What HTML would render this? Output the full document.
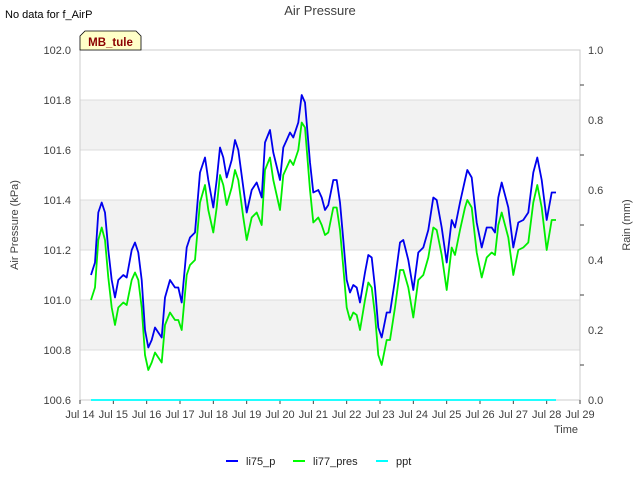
<!DOCTYPE html>
<html><head><meta charset="utf-8"><style>
body{margin:0;background:#fff;}
svg{display:block;font-family:"Liberation Sans","DejaVu Sans",sans-serif;}
</style></head><body>
<svg id="chart" width="640" height="480" viewBox="0 0 640 480">
<g id="bands"></g><g id="grid"></g><g id="axes"></g><g id="series"></g>
<text x="320" y="15" text-anchor="middle" font-size="13" fill="#404040">Air Pressure</text>
<text x="5" y="18" font-size="11" fill="#000">No data for f_AirP</text>
<g>
<path d="M80,50 L80,36 L85,31 L136,31 L141,36 L141,50 Z" fill="#ffffc8" stroke="#000" stroke-width="0.8"/>
<text x="110.5" y="46" text-anchor="middle" font-size="11.5" font-weight="bold" fill="#8b0000">MB_tule</text>
</g>
<text transform="translate(18,225) rotate(-90)" text-anchor="middle" font-size="11" fill="#404040">Air Pressure (kPa)</text>
<text transform="translate(630,225) rotate(-90)" text-anchor="middle" font-size="11" fill="#404040">Rain (mm)</text>
<text x="566" y="433" text-anchor="middle" font-size="11" fill="#404040">Time</text>
<g>
<g><line x1="226" y1="461" x2="238" y2="461" stroke="#0000ff" stroke-width="2"/><text x="246" y="465" font-size="11" fill="#222">li75_p</text></g>
<g><line x1="293" y1="461" x2="305" y2="461" stroke="#00ff00" stroke-width="2"/><text x="313" y="465" font-size="11" fill="#222">li77_pres</text></g>
<g><line x1="376" y1="461" x2="388" y2="461" stroke="#00ffff" stroke-width="2"/><text x="396" y="465" font-size="11" fill="#222">ppt</text></g>
</g>
</svg>
<script>
const days=[14.33,14.45,14.55,14.65,14.75,14.85,14.95,15.05,15.15,15.30,15.40,15.55,15.65,15.75,15.85,15.95,16.05,16.15,16.25,16.35,16.45,16.55,16.70,16.85,16.95,17.05,17.20,17.30,17.45,17.60,17.75,17.85,18.00,18.10,18.20,18.30,18.40,18.55,18.65,18.75,18.90,19.00,19.15,19.30,19.45,19.55,19.70,19.80,20.00,20.10,20.20,20.30,20.40,20.55,20.65,20.75,20.90,21.00,21.15,21.25,21.35,21.45,21.60,21.70,21.80,21.90,22.00,22.10,22.20,22.30,22.40,22.55,22.65,22.75,22.85,22.95,23.05,23.20,23.30,23.45,23.60,23.70,23.85,24.00,24.15,24.30,24.45,24.60,24.70,24.85,25.00,25.15,25.25,25.40,25.55,25.62,25.75,25.90,26.05,26.20,26.35,26.45,26.55,26.65,26.85,27.00,27.15,27.30,27.45,27.60,27.72,27.85,28.00,28.15,28.28];
const li75=[101.10,101.15,101.35,101.39,101.35,101.20,101.08,101.01,101.08,101.10,101.09,101.20,101.23,101.19,101.08,100.88,100.81,100.84,100.89,100.87,100.85,101.01,101.08,101.05,101.05,100.99,101.21,101.25,101.27,101.51,101.57,101.48,101.37,101.48,101.61,101.57,101.49,101.56,101.64,101.60,101.45,101.35,101.44,101.47,101.41,101.63,101.68,101.59,101.48,101.61,101.64,101.67,101.65,101.71,101.82,101.79,101.55,101.43,101.44,101.41,101.36,101.38,101.48,101.48,101.39,101.24,101.08,101.03,101.06,101.05,100.99,101.11,101.18,101.17,101.05,100.89,100.85,100.95,100.95,101.08,101.23,101.24,101.16,101.04,101.19,101.21,101.28,101.41,101.40,101.29,101.15,101.32,101.29,101.39,101.48,101.52,101.49,101.31,101.21,101.29,101.29,101.27,101.41,101.47,101.37,101.21,101.31,101.32,101.35,101.51,101.57,101.48,101.32,101.43,101.43];
const li77=[101.00,101.05,101.24,101.29,101.24,101.09,100.97,100.90,100.97,100.99,100.98,101.08,101.11,101.08,100.97,100.78,100.72,100.75,100.79,100.77,100.75,100.90,100.95,100.92,100.92,100.88,101.10,101.14,101.16,101.39,101.46,101.36,101.27,101.37,101.50,101.46,101.38,101.45,101.52,101.48,101.33,101.24,101.33,101.35,101.30,101.52,101.57,101.48,101.36,101.50,101.53,101.56,101.54,101.60,101.71,101.69,101.44,101.31,101.33,101.30,101.26,101.27,101.37,101.37,101.28,101.13,100.97,100.92,100.95,100.94,100.88,101.00,101.07,101.05,100.94,100.78,100.74,100.84,100.84,100.97,101.12,101.12,101.05,100.93,101.08,101.10,101.17,101.29,101.28,101.18,101.04,101.21,101.18,101.28,101.37,101.40,101.37,101.19,101.09,101.17,101.19,101.18,101.30,101.35,101.25,101.10,101.20,101.21,101.23,101.39,101.46,101.37,101.20,101.32,101.32];
const pptDays=[14.33,28.28];
const ppt=[0,0];
const yTicks=[100.6,100.8,101.0,101.2,101.4,101.6,101.8,102.0];
const y2Ticks=[0.0,0.2,0.4,0.6,0.8,1.0];
const xTickDays=[14,15,16,17,18,19,20,21,22,23,24,25,26,27,28,29];
const L=80,R=580,T=50,B=400;
const xs=d=>L+(d-14)/15*(R-L);
const ys=v=>B-(v-100.6)/1.4*(B-T);
const y2=v=>B-v*(B-T);
const NS="http://www.w3.org/2000/svg";
function mk(tag,parent,attrs){const e=document.createElementNS(NS,tag);for(const k in attrs)e.setAttribute(k,attrs[k]);document.getElementById(parent).appendChild(e);return e;}
for(let i=0;i<yTicks.length-1;i++){
  if(i%2===1){const r=mk('rect','bands',{x:L,y:ys(yTicks[i+1]),width:R-L,height:ys(yTicks[i])-ys(yTicks[i+1]),fill:'#f2f2f2'});
  
  }
}
yTicks.forEach(v=>{
  const g=mk('line','grid',{x1:L,x2:R,y1:ys(v),y2:ys(v),stroke:'#dcdcdc','stroke-width':1});
  
  
  const t=mk('text','axes',{x:L-9,y:ys(v)+4,'text-anchor':'end','font-size':11,fill:'#404040'});
  t.textContent=v.toFixed(1);
  
  
});
const fr=mk('rect','axes',{x:L,y:T,width:R-L,height:B-T,fill:'none',stroke:'#cccccc','stroke-width':1});


y2Ticks.forEach(v=>{
  const t=mk('text','axes',{x:R+8,y:y2(v)+4,'font-size':11,fill:'#404040'});
  t.textContent=v.toFixed(1);
  
  
});
for(let k=1;k<10;k+=2){const m=mk('line','axes',{x1:R,x2:R+4,y1:y2(k/10),y2:y2(k/10),stroke:'#404040'});
  
  }
xTickDays.forEach(d=>{
  const tk=mk('line','axes',{x1:xs(d),x2:xs(d),y1:B,y2:B+4,stroke:'#404040'});
  
  
  const t=mk('text','axes',{x:xs(d),y:B+18,'text-anchor':'middle','font-size':11,fill:'#404040'});
  t.textContent='Jul '+d;
  
  
});
function line(dx,vals,sc,color,name){
  const p=mk('polyline','series',{points:dx.map((d,i)=>xs(d).toFixed(1)+','+sc(vals[i]).toFixed(1)).join(' '),fill:'none',stroke:color,'stroke-width':1.8,'stroke-linejoin':'round'});
  
  
}
line(pptDays,ppt,y2,'#00ffff','ppt-line');
line(days,li77,ys,'#00ee00','li77-pres-line');
line(days,li75,ys,'#0000ee','li75-p-line');
</script>
</body></html>
